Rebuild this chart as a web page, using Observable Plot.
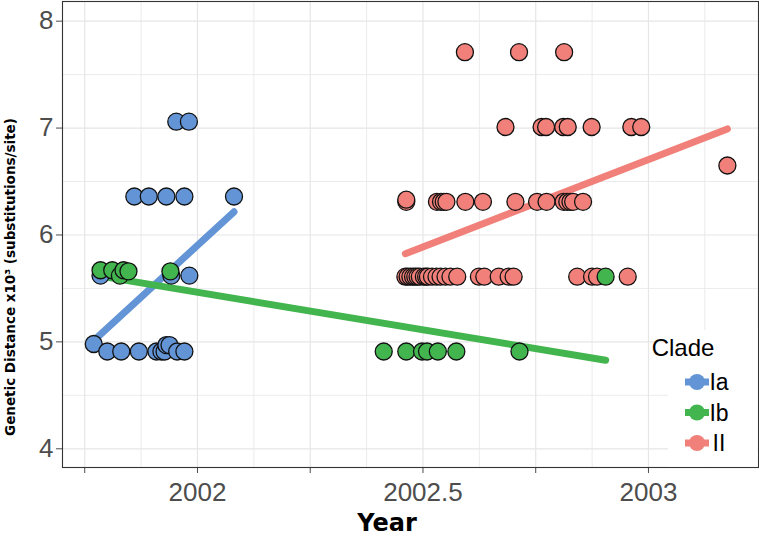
<!DOCTYPE html>
<html>
<head>
<meta charset="utf-8">
<script src="https://cdn.jsdelivr.net/npm/d3@7"></script>
<script src="https://cdn.jsdelivr.net/npm/@observablehq/plot@0.6"></script>
<style>
  body { margin: 0; background: #fff; }
  #chart svg { display: block; }
</style>
</head>
<body>
<div id="chart"></div>
<script>
// Clade Ia (blue)
const iaYear = [2001.770, 2001.800, 2001.831, 2001.870, 2001.909, 2001.920, 2001.927, 2001.931, 2001.938, 2001.955, 2001.971,
                2001.785, 2001.942, 2001.982,
                2001.860, 2001.892, 2001.931, 2001.971, 2002.081,
                2001.953, 2001.981];
const iaDist = [4.98, 4.91, 4.91, 4.91, 4.91, 4.91, 4.91, 4.97, 4.97, 4.91, 4.91,
                5.62, 5.62, 5.62,
                6.36, 6.36, 6.36, 6.36, 6.36,
                7.06, 7.06];

// Clade Ib (green)
const ibYear = [2001.785, 2001.811, 2001.828, 2001.836, 2001.847, 2001.940,
                2002.413, 2002.463, 2002.498, 2002.509, 2002.533, 2002.574, 2002.714,
                2002.905];
const ibDist = [5.67, 5.67, 5.62, 5.67, 5.66, 5.66,
                4.91, 4.91, 4.91, 4.91, 4.91, 4.91, 4.91,
                5.61];

// Clade II (red)
const iiYear = [2002.593, 2002.713, 2002.813,
                2002.683, 2002.763, 2002.773, 2002.811, 2002.821, 2002.874, 2002.962, 2002.984,
                2003.175,
                2002.463, 2002.463, 2002.531, 2002.540, 2002.546, 2002.552, 2002.594, 2002.633, 2002.705,
                2002.753, 2002.774, 2002.812, 2002.820, 2002.827, 2002.833, 2002.855,
                2002.461, 2002.466, 2002.472, 2002.478, 2002.483, 2002.488, 2002.493, 2002.502, 2002.507,
                2002.511, 2002.520, 2002.530, 2002.539,
                2002.550, 2002.561, 2002.576, 2002.624, 2002.636, 2002.668, 2002.690, 2002.701,
                2002.842, 2002.875, 2002.886, 2002.954];
const iiDist = [7.71, 7.71, 7.71,
                7.01, 7.01, 7.01, 7.01, 7.01, 7.01, 7.01, 7.01,
                6.65,
                6.31, 6.33, 6.31, 6.31, 6.31, 6.31, 6.31, 6.31, 6.31,
                6.31, 6.31, 6.31, 6.31, 6.31, 6.31, 6.31,
                5.61, 5.61, 5.61, 5.61, 5.61, 5.61, 5.61, 5.61, 5.61,
                5.61, 5.61, 5.61, 5.61,
                5.61, 5.61, 5.61, 5.61, 5.61, 5.61, 5.61, 5.61,
                5.61, 5.61, 5.61, 5.61];

const clades = ["Ia", "Ib", "II"];
const cladeColors = ["#6395D6", "#42B54F", "#F08079"];

const xTicks = [2001.75, 2002, 2002.25, 2002.5, 2002.75, 2003];
const xTickLabels = ["", "2002", "", "2002.5", "", "2003"];
const xMinor = [2001.875, 2002.125, 2002.375, 2002.625, 2002.875, 2003.125];
const yTicks = [4, 5, 6, 7, 8];
const yMinor = [4.5, 5.5, 6.5, 7.5];

const toRows = (clade, xs, ys) => xs.map((x, i) => ({clade, year: x, dist: ys[i]}));
// red first, then blue, then green on top (as in the figure)
const rows = [
  ...toRows("II", iiYear, iiDist),
  ...toRows("Ia", iaYear, iaDist),
  ...toRows("Ib", ibYear, ibDist)
];

const grid = "#e6e6e6";

const chart = Plot.plot({
  width: 759,
  height: 540,
  marginLeft: 62,
  marginRight: 1,
  marginTop: 1,
  marginBottom: 73,
  style: {fontFamily: "Liberation Sans, Arial, sans-serif", background: "#fff"},
  x: {domain: [2001.7007, 2003.244]},
  y: {domain: [3.825, 8.184]},
  color: {domain: clades, range: cladeColors},
  marks: [
    Plot.ruleX(xMinor, {stroke: grid, strokeWidth: 0.8}),
    Plot.ruleY(yMinor, {stroke: grid, strokeWidth: 0.8}),
    Plot.ruleX(xTicks, {stroke: grid, strokeWidth: 1.2}),
    Plot.ruleY(yTicks, {stroke: grid, strokeWidth: 1.2}),
    Plot.linearRegressionY(rows, {x: "year", y: "dist", stroke: "clade", strokeWidth: 7, ci: 0}),
    Plot.dot(rows, {x: "year", y: "dist", fill: "clade", stroke: "#111", strokeWidth: 1.3, r: 8.5}),
    Plot.axisX(xTicks, {
      ticks: xTicks, tickFormat: (d, i) => xTickLabels[i], tickSize: 6, tickPadding: 9,
      fontSize: 26, color: "#4d4d4d", label: null
    }),
    Plot.axisY(yTicks, {
      ticks: yTicks, tickFormat: d => String(d), tickSize: 6, tickPadding: 3,
      fontSize: 26, color: "#4d4d4d", label: null
    }),
    Plot.frame({stroke: "#333", strokeWidth: 1.1})
  ]
});

const svg = d3.select(chart);

// axis titles
svg.append("text")
  .attr("x", 387).attr("y", 531)
  .attr("text-anchor", "middle")
  .attr("font-family", "DejaVu Sans, sans-serif")
  .attr("font-weight", "bold")
  .attr("font-size", 24)
  .attr("fill", "#000")
  .text("Year");

svg.append("text")
  .attr("transform", "translate(15,277) rotate(-90)")
  .attr("text-anchor", "middle")
  .attr("font-family", "DejaVu Sans, sans-serif")
  .attr("font-weight", "bold")
  .attr("font-size", 13.5)
  .attr("fill", "#000")
  .text("Genetic Distance x10³ (substitutions/site)");

// legend inside the panel, bottom right
const lg = svg.append("g");
lg.append("rect").attr("x", 668).attr("y", 330).attr("width", 89.5).attr("height", 136.5).attr("fill", "#fff");
lg.append("text").attr("x", 683).attr("y", 356)
  .attr("font-family", "Liberation Sans, Arial, sans-serif").attr("font-size", 24).attr("fill", "#000")
  .text("Clade");
clades.forEach((c, i) => {
  const cy = 382 + i * 30.5;
  lg.append("line").attr("x1", 685).attr("x2", 709).attr("y1", cy).attr("y2", cy)
    .attr("stroke", cladeColors[i]).attr("stroke-width", 7);
  lg.append("circle").attr("cx", 697).attr("cy", cy).attr("r", 8).attr("fill", cladeColors[i]);
  lg.append("text").attr("x", 719).attr("y", cy + 8)
    .attr("font-family", "Liberation Sans, Arial, sans-serif").attr("font-size", 23).attr("fill", "#000")
    .text(c);
});

document.getElementById("chart").append(chart);
</script>
</body>
</html>
